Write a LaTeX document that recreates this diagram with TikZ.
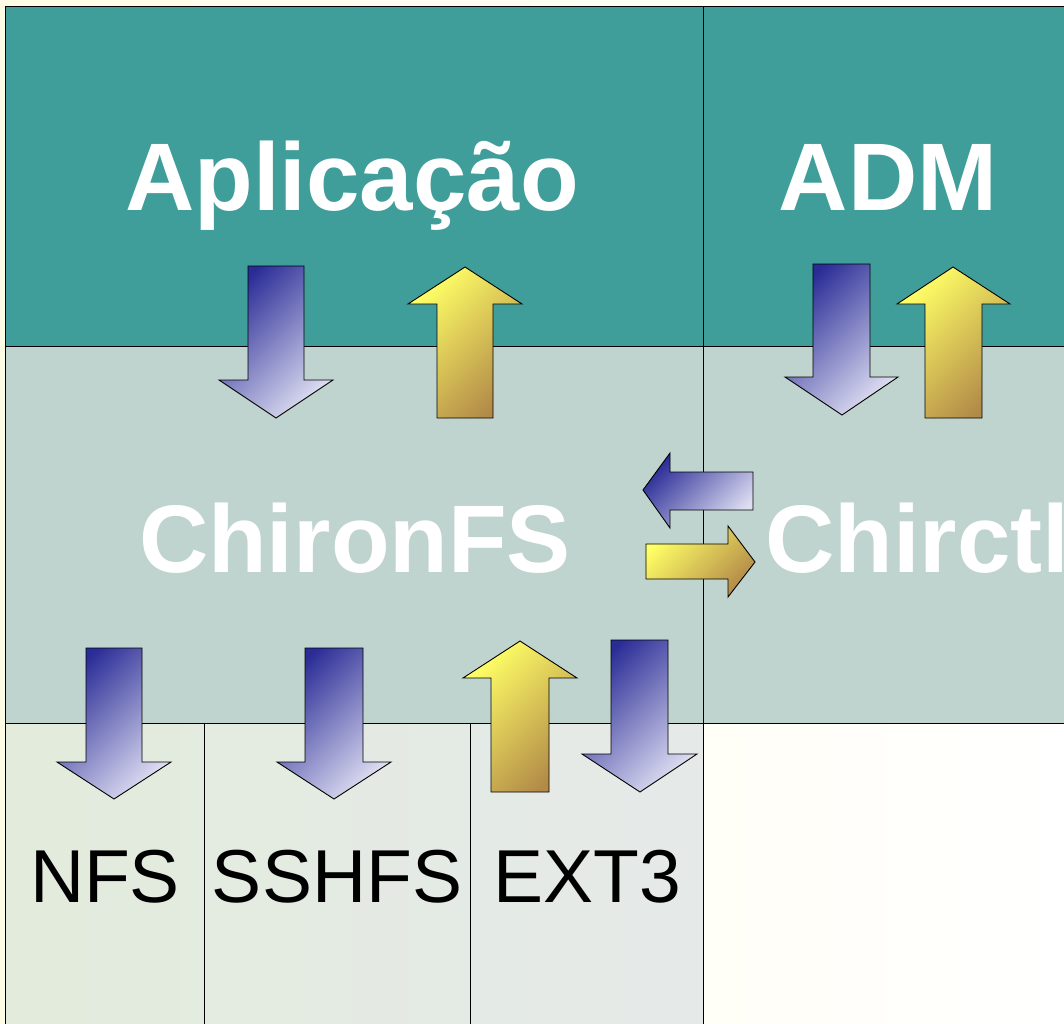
\documentclass[tikz,border=0pt]{standalone}
\usepackage{fontspec}
\setmainfont{Liberation Sans}
\definecolor{pagebg}{HTML}{FFFCE6}
\definecolor{teal1}{HTML}{409E9A}
\definecolor{midc}{HTML}{C0D4CF}
\definecolor{botl}{HTML}{E3EBDC}
\definecolor{botr}{HTML}{E5EAE9}
\definecolor{bluedark}{HTML}{2A2C96}
\definecolor{bluemid}{HTML}{7676BC}
\definecolor{bluelight}{HTML}{DEDEF2}
\definecolor{yelbright}{HTML}{FFFF66}
\definecolor{yelmid}{HTML}{F6F266}
\definecolor{yeldark}{HTML}{B28A48}
\tikzset{
  cell/.style={draw=black, line width=1pt},
  bluearrow/.style={draw=black, line width=0.9pt, line join=miter, left color=bluedark, middle color=bluemid, right color=bluelight, shading angle=45},
  yelarrow/.style={draw=black, line width=0.9pt, line join=miter, left color=yelbright, middle color=yelmid, right color=yeldark, shading angle=45},
  bigwhite/.style={text=white, font=\fontsize{96}{96}\selectfont\bfseries, inner sep=0pt, anchor=base},
  fslabel/.style={text=black, font=\fontsize{75}{75}\selectfont, inner sep=0pt, anchor=base},
}
\begin{document}
\begin{tikzpicture}[x=1pt,y=-1pt]
\useasboundingbox (0,0) rectangle (1064,1023);
\clip (0,0) rectangle (1064,1023);
\shade[left color=pagebg, right color=white] (0,0) rectangle (1064,1023);
% layers
\fill[teal1] (5,6) rectangle (1070,346);
\fill[midc] (5,346) rectangle (1070,723);
\shade[left color=botl, right color=botr] (5,723) rectangle (703,1030);
\draw[cell] (5,6) rectangle (703,346);
\draw[cell] (703,6) rectangle (1070,346);
\draw[cell] (5,346) rectangle (703,723);
\draw[cell] (703,346) rectangle (1070,723);
\draw[cell] (5,723) rectangle (204,1030);
\draw[cell] (204,723) rectangle (470,1030);
\draw[cell] (470,723) rectangle (703,1030);
% labels
\node[bigwhite] (app) at (352,210) {Aplicação};
\node[bigwhite] (adm) at (888,210) {ADM};
\node[bigwhite] (chiron) at (355,572) {ChironFS};
\node[bigwhite, anchor=base west] (chirctl) at (765,572) {Chirctl};
\node[fslabel] (nfs) at (105,902) {NFS};
\node[fslabel] (sshfs) at (337,902) {SSHFS};
\node[fslabel] (ext3) at (587,902) {EXT3};
% arrows: Aplicacao
\path[bluearrow] (248,266) -- (304,266) -- (304,380) -- (333,380) -- (276,418) -- (219,380) -- (248,380) -- cycle;
\path[yelarrow] (437,418) -- (493,418) -- (493,304) -- (522,304) -- (465,267) -- (408,304) -- (437,304) -- cycle;
% arrows: ADM
\path[bluearrow] (813,264) -- (870,264) -- (870,377) -- (898,377) -- (842,415) -- (785,377) -- (813,377) -- cycle;
\path[yelarrow] (925,418) -- (982,418) -- (982,304) -- (1010,304) -- (953,267) -- (897,304) -- (925,304) -- cycle;
% horizontal arrows
\path[bluearrow] (753,472) -- (753,510) -- (670,510) -- (670,528) -- (643,490) -- (670,453) -- (670,472) -- cycle;
\path[yelarrow] (646,544) -- (646,579) -- (728,579) -- (728,597) -- (755,562) -- (728,526) -- (728,544) -- cycle;
% bottom arrows
\path[bluearrow] (86,648) -- (142,648) -- (142,762) -- (171,762) -- (114,799) -- (57,762) -- (86,762) -- cycle;
\path[bluearrow] (305,648) -- (363,648) -- (363,762) -- (391,762) -- (334,799) -- (277,762) -- (305,762) -- cycle;
\path[yelarrow] (491,792) -- (549,792) -- (549,678) -- (577,678) -- (520,641) -- (463,678) -- (491,678) -- cycle;
\path[bluearrow] (611,640) -- (668,640) -- (668,754) -- (697,754) -- (640,792) -- (582,754) -- (611,754) -- cycle;
\end{tikzpicture}
\end{document}
